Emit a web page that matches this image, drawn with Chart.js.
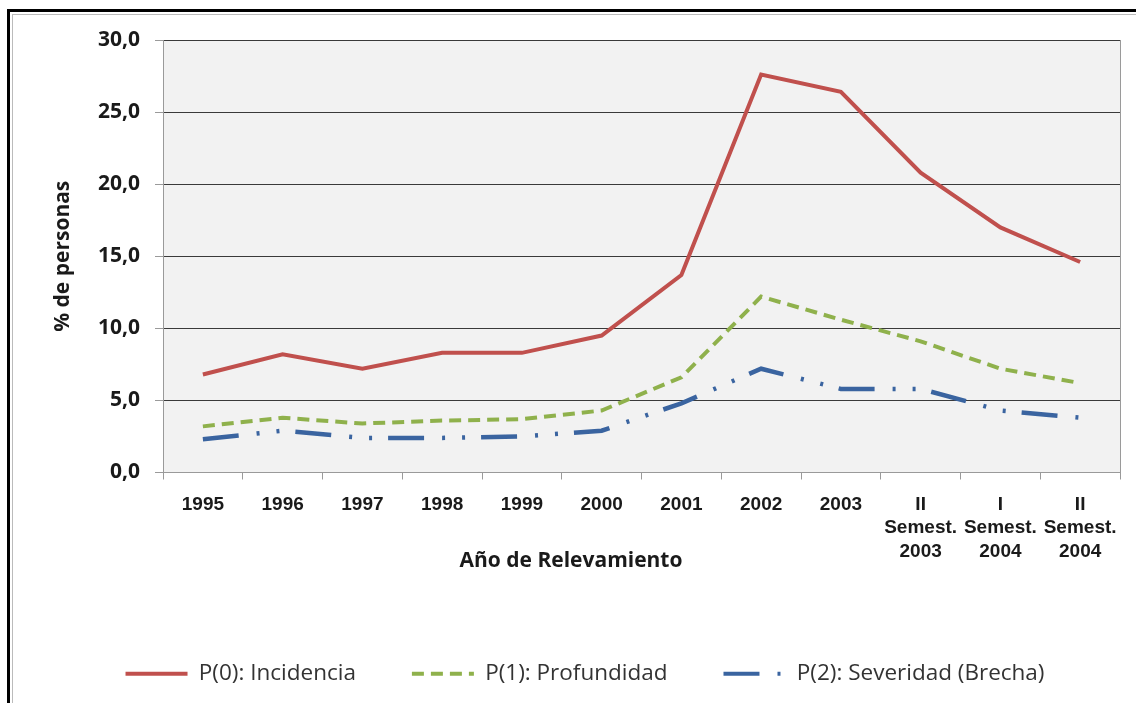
<!DOCTYPE html>
<html lang="es">
<head>
<meta charset="utf-8">
<title>Pobreza - P(0), P(1), P(2)</title>
<script src="https://cdn.jsdelivr.net/npm/chart.js@4/dist/chart.umd.min.js"></script>
<style>
    html, body { margin: 0; padding: 0; background: #fff; }
    body { width: 1136px; height: 703px; position: relative; overflow: hidden; }
    /* marco exterior (solo se ven los bordes izquierdo y superior) */
    #marco {
        position: absolute; left: 7px; top: 9px; width: 1200px; height: 800px;
        border-left: 3px solid #000; border-top: 3px solid #000;
    }
    #marco-int {
        position: absolute; left: 2px; top: 2px; right: 0; bottom: 0;
        border-left: 1px solid #bbb; border-top: 1px solid #bbb;
    }
    #wrap { position: absolute; left: 0; top: 0; width: 1136px; height: 703px; }
</style>
</head>
<body>
<div id="marco"><div id="marco-int"></div></div>
<div id="wrap"><canvas id="grafico" width="1136" height="703"></canvas></div>
<script>
// Datos
const categorias = ['1995', '1996', '1997', '1998', '1999', '2000', '2001', '2002', '2003',
    ['II', 'Semest.', '2003'], ['I', 'Semest.', '2004'], ['II', 'Semest.', '2004']];
const incidencia  = [6.8, 8.2, 7.2, 8.3, 8.3, 9.5, 13.7, 27.6, 26.4, 20.8, 17.0, 14.6];
const profundidad = [3.2, 3.8, 3.4, 3.6, 3.7, 4.3, 6.6, 12.2, 10.6, 9.1, 7.2, 6.2];
const severidad   = [2.3, 2.9, 2.4, 2.4, 2.5, 2.9, 4.8, 7.2, 5.8, 5.8, 4.3, 3.8];
const ticksY = [0, 5, 10, 15, 20, 25, 30];

// Fondo gris del área de trazado y borde derecho
const fondoPlot = {
    id: 'fondoPlot',
    beforeDraw(chart) {
        const { ctx, chartArea: a } = chart;
        ctx.save();
        ctx.fillStyle = '#f2f2f2';
        ctx.fillRect(a.left, a.top, a.right - a.left, a.bottom - a.top);
        ctx.restore();
    },
    beforeDatasetsDraw(chart) {
        const { ctx, chartArea: a } = chart;
        ctx.save();
        ctx.strokeStyle = '#9a9a9a';
        ctx.lineWidth = 1;
        ctx.beginPath();
        ctx.moveTo(a.right + 0.5, a.top);
        ctx.lineTo(a.right + 0.5, a.bottom);
        ctx.stroke();
        ctx.restore();
    }
};

// Título del eje X (queda a la altura de las etiquetas de varias líneas)
const tituloX = {
    id: 'tituloX',
    afterDraw(chart) {
        const ctx = chart.ctx;
        ctx.save();
        ctx.font = 'bold 21px "Open Sans"';
        ctx.fillStyle = '#1a1a1a';
        ctx.textAlign = 'center';
        ctx.textBaseline = 'middle';
        ctx.fillText('Año de Relevamiento', chart.width / 2 + 3, 561);
        ctx.restore();
    }
};

new Chart(document.getElementById('grafico'), {
    type: 'line',
    data: {
        labels: categorias,
        datasets: [
            {
                label: 'P(0): Incidencia',
                data: incidencia,
                borderColor: '#c0504d',
                backgroundColor: '#c0504d',
                borderWidth: 4,
                pointRadius: 0,
                tension: 0
            },
            {
                label: 'P(1): Profundidad',
                data: profundidad,
                borderColor: '#8fb14c',
                backgroundColor: '#8fb14c',
                borderWidth: 4,
                borderDash: [12, 7],
                pointRadius: 0,
                tension: 0
            },
            {
                label: 'P(2): Severidad (Brecha)',
                data: severidad,
                borderColor: '#3a64a0',
                backgroundColor: '#3a64a0',
                borderWidth: 4.5,
                borderDash: [36, 18, 3, 17, 3, 16],
                pointRadius: 0,
                tension: 0
            }
        ]
    },
    options: {
        responsive: false,
        animation: false,
        layout: { padding: { left: 50, right: 16, top: 40, bottom: 8 } },
        plugins: {
            tooltip: { enabled: false },
            legend: {
                position: 'bottom',
                labels: {
                    usePointStyle: true,
                    pointStyle: 'line',
                    pointStyleWidth: 62,
                    padding: 56,
                    color: '#333',
                    font: { family: '"Open Sans"', size: 22.5 },
                    // el estilo de punto no trae el guion de la serie: se copia del dataset
                    generateLabels: chart => Chart.defaults.plugins.legend.labels.generateLabels(chart)
                        .map((item, i) => Object.assign(item, {
                            lineDash: chart.data.datasets[i].borderDash || [],
                            lineWidth: 4
                        }))
                }
            }
        },
        scales: {
            x: {
                offset: true,
                afterFit: scale => { scale.height = 134; },
                grid: {
                    offset: true,
                    drawOnChartArea: false,
                    drawTicks: true,
                    tickLength: 7,
                    tickColor: '#9a9a9a'
                },
                border: { color: '#9a9a9a', width: 1 },
                ticks: {
                    maxRotation: 0,
                    autoSkip: false,
                    padding: 13,
                    color: '#1a1a1a',
                    font: { family: '"Liberation Sans"', size: 19, weight: 'bold', lineHeight: 1.25 }
                }
            },
            y: {
                min: 0,
                max: 30,
                afterFit: scale => { scale.width = 113; },
                afterBuildTicks: scale => { scale.ticks = ticksY.map(v => ({ value: v })); },
                grid: {
                    color: c => (c.tick && c.tick.value === 0) ? '#9a9a9a' : '#3a3a3a',
                    lineWidth: 1,
                    tickLength: 8,
                    tickColor: '#9a9a9a'
                },
                border: { color: '#9a9a9a', width: 1 },
                ticks: {
                    padding: 15,
                    color: '#1a1a1a',
                    font: { family: '"Open Sans"', size: 21, weight: 'bold' },
                    callback: v => v.toFixed(1).replace('.', ',')
                },
                title: {
                    display: true,
                    text: '% de personas',
                    color: '#1a1a1a',
                    padding: 0,
                    font: { family: '"Open Sans"', size: 21, weight: 'bold' }
                }
            }
        }
    },
    plugins: [fondoPlot, tituloX]
});
</script>
</body>
</html>
